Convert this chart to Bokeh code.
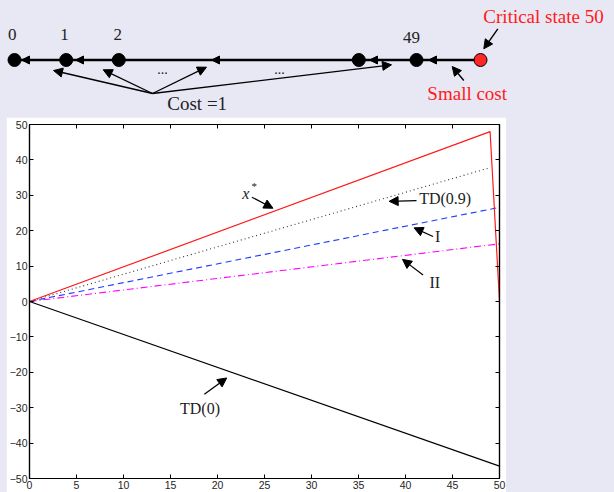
from bokeh.plotting import figure
from bokeh.models import (Range1d, LinearAxis, FixedTicker, Arrow, NormalHead,
                          GlobalInlineStyleSheet)
from bokeh.core.properties import value
from bokeh.embed import file_html
from bokeh.resources import INLINE

BG = "#e8e8f4"
SERIF = value("Liberation Serif")

# ---------------- chart data ----------------
xstar_x = [0, 49, 50]
xstar_v = [0, 48, 0]
td09_x = [0, 49]
td09_v = [0, 37.8]
I_x = [0, 50]
I_v = [0, 26.6]
II_x = [0, 50]
II_v = [0, 16.3]
td0_x = [0, 50]
td0_v = [0, -46.5]

x_ticks = [0, 5, 10, 15, 20, 25, 30, 35, 40, 45, 50]
x_tick_labels = ["0", "5", "10", "15", "20", "25", "30", "35", "40", "45", "50"]
y_ticks = [-50, -40, -30, -20, -10, 0, 10, 20, 30, 40, 50]
y_tick_labels = ["\u221250", "\u221240", "\u221230", "\u221220", "\u221210", "0",
                 "10", "20", "30", "40", "50"]

# ---------------- diagram (schematic, in diagram units) ----------------
node_x = [14, 65.7, 118.3, 358.3, 416]
node_y = 59.5
critical_x = 480
node_labels = ["0", "1", "2", "49"]
node_label_x = [11.7, 64, 117.3, 411]
node_label_y = [34, 34, 34, 36.5]
line_arrow_tips = [21, 75, 211, 369, 428]
cost_apex = (152, 93)
cost_targets_x = [53, 102.7, 206, 391]
cost_targets_y = [70, 69.3, 66.7, 64.3]

top = figure(width=614, height=117, x_range=Range1d(0, 614), y_range=Range1d(117, 0),
             output_backend="svg", toolbar_location=None, min_border=0,
             min_border_left=0, min_border_right=0, min_border_top=0, min_border_bottom=0,
             x_axis_location=None, y_axis_location=None,
             background_fill_color=BG, border_fill_color=BG, outline_line_color=None,
             stylesheets=[GlobalInlineStyleSheet(css="body { background-color: #e8e8f4; }")])
top.grid.visible = False

top.line(x=[node_x[0], critical_x], y=[node_y, node_y], line_width=2.3, color="black")
for tip in line_arrow_tips:
    top.add_layout(Arrow(end=NormalHead(size=8, fill_color="black", line_color="black"),
                         x_start=tip + 9, y_start=node_y, x_end=tip, y_end=node_y,
                         line_width=2, line_color="black"))
top.scatter(x=node_x, y=[node_y] * len(node_x), size=13, color="black")
top.scatter(x=[critical_x], y=[node_y], size=13, fill_color="#ff2626", line_color="black",
            line_width=1)

for tx, ty in zip(cost_targets_x, cost_targets_y):
    top.add_layout(Arrow(end=NormalHead(size=9, fill_color="black", line_color="black"),
                         x_start=cost_apex[0], y_start=cost_apex[1], x_end=tx, y_end=ty,
                         line_width=1.3, line_color="black"))

top.add_layout(Arrow(end=NormalHead(size=9, fill_color="black", line_color="black"),
                     x_start=463.3, y_start=80, x_end=451.7, y_end=66,
                     line_width=1.4, line_color="black"))
top.add_layout(Arrow(end=NormalHead(size=9, fill_color="black", line_color="black"),
                     x_start=497.3, y_start=28.3, x_end=483.3, y_end=48.3,
                     line_width=1.4, line_color="black"))

top.text(x=node_label_x, y=node_label_y, text=node_labels, text_align="center",
         text_baseline="middle", text_font=SERIF, text_font_size="17px", text_color="#222222")
top.text(x=[162, 279], y=[68, 68], text=["...", "..."], text_align="center",
         text_baseline="middle", text_font=SERIF, text_font_size="14px", text_color="#222222")
top.text(x=[196.7], y=[103.3], text=["Cost =1"], text_align="center",
         text_baseline="middle", text_font=SERIF, text_font_size="19px", text_color="#222222")
top.text(x=[543], y=[16], text=["Critical state 50"], text_align="center",
         text_baseline="middle", text_font=SERIF, text_font_size="19px", text_color="#ff1a1a")
top.text(x=[466.7], y=[93.4], text=["Small cost"], text_align="center",
         text_baseline="middle", text_font=SERIF, text_font_size="19px", text_color="#ff1a1a")

# ---------------- chart ----------------
p = figure(width=500, height=375, x_range=Range1d(0, 50), y_range=Range1d(-50, 50),
           output_backend="svg", toolbar_location=None,
           min_border_left=22, min_border_right=7, min_border_top=7, min_border_bottom=14,
           background_fill_color="white", border_fill_color="white",
           outline_line_color="black", outline_line_width=1.2,
           styles={"margin-left": "6px"})
p.grid.visible = False

def style_axis(ax, ticks, labels, show_labels=True):
    ax.ticker = FixedTicker(ticks=ticks)
    ax.major_tick_in = 4
    ax.major_tick_out = 0
    ax.minor_tick_line_color = None
    ax.axis_line_width = 1.2
    ax.axis_line_color = "black"
    ax.major_tick_line_color = "black"
    if show_labels:
        ax.major_label_overrides = {t: l for t, l in zip(ticks, labels)}
        ax.major_label_text_font = "Liberation Sans"
        ax.major_label_text_font_size = "10.5px"
        ax.major_label_text_color = "#262626"
        ax.major_label_standoff = 2
    else:
        ax.major_label_overrides = {t: "" for t in ticks}
        ax.major_label_text_font_size = "0px"
        ax.major_label_standoff = 0

style_axis(p.xaxis[0], x_ticks, x_tick_labels)
style_axis(p.yaxis[0], y_ticks, y_tick_labels)
top_ax = LinearAxis()
style_axis(top_ax, x_ticks, x_tick_labels, show_labels=False)
p.add_layout(top_ax, "above")
right_ax = LinearAxis()
style_axis(right_ax, y_ticks, y_tick_labels, show_labels=False)
p.add_layout(right_ax, "right")

p.line(td0_x, td0_v, color="black", line_width=1.1)
p.line(II_x, II_v, color="#ff00ff", line_dash="7 3 1 3", line_width=1.1)
p.line(I_x, I_v, color="#1a3cff", line_dash="6 4", line_width=1.1)
p.line(td09_x, td09_v, color="#333333", line_dash="1 3", line_width=1.1)
p.line(xstar_x, xstar_v, color="#ff1a1a", line_width=1.2)

def ann_arrow(x0, y0, x1, y1):
    p.add_layout(Arrow(end=NormalHead(size=9, fill_color="black", line_color="black"),
                       x_start=x0, y_start=y0, x_end=x1, y_end=y1,
                       line_width=1.2, line_color="black"))

ann_arrow(23.67, 29.45, 25.9, 26.35)
ann_arrow(41.17, 28.5, 38.26, 28.3)
ann_arrow(42.93, 18.38, 40.91, 20.8)
ann_arrow(41.87, 7.47, 39.68, 11.9)
ann_arrow(18.6, -26.2, 20.98, -21.6)

p.text(x=[23.0], y=[30.4], text=["x"], text_align="center", text_baseline="middle",
       text_font=SERIF, text_font_style="italic", text_font_size="16px", text_color="#222222")
p.text(x=[23.9], y=[32.6], text=["*"], text_align="center", text_baseline="middle",
       text_font=SERIF, text_font_size="11px", text_color="#222222")
p.text(x=[41.45], y=[29.2], text=["TD(0.9)"], text_align="left", text_baseline="middle",
       text_font=SERIF, text_font_size="16px", text_color="#222222")
p.text(x=[43.43], y=[18.4], text=["I"], text_align="center", text_baseline="middle",
       text_font=SERIF, text_font_size="16px", text_color="#222222")
p.text(x=[43.11], y=[5.5], text=["II"], text_align="center", text_baseline="middle",
       text_font=SERIF, text_font_size="16px", text_color="#222222")
p.text(x=[18.14], y=[-30.3], text=["TD(0)"], text_align="center", text_baseline="middle",
       text_font=SERIF, text_font_size="16px", text_color="#222222")

open("out.html", "w").write(file_html([top, p], INLINE))
